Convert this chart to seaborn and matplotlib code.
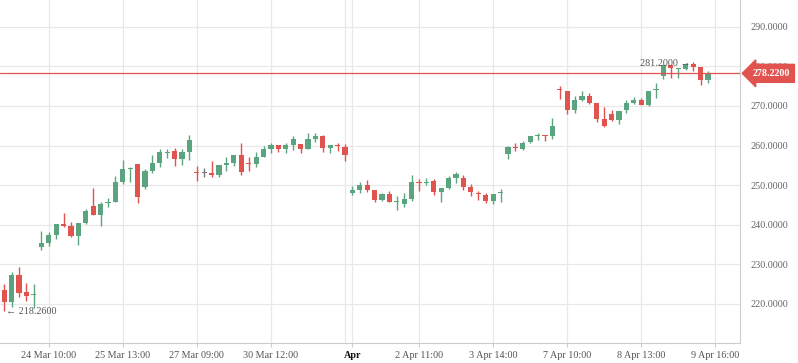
import numpy as np
import matplotlib
matplotlib.use("Agg")
import matplotlib.pyplot as plt
import seaborn as sns

opens = [223.5, 220.55, 227.3, 223.0, 222.45, 234.44, 235.45, 237.4, 240.3, 239.67,
         237.14, 240.5, 244.7, 242.44, 245.4, 245.72, 250.77, 254.2, 255.32, 249.43,
         253.64, 255.65, 258.2, 258.6, 256.58, 258.35, 253.3, 253.2, 253.05, 252.54,
         255.07, 255.57, 257.59, 255.5, 255.32, 257.09, 259.1, 260.12, 259.1, 260.12,
         260.37, 259.1, 261.72, 262.39, 259.44, 259.95, 259.6, 248.1, 248.8, 250.03,
         248.76, 246.24, 247.75, 245.85, 245.23, 246.49, 250.78, 250.6, 251.12, 248.34,
         249.35, 251.71, 251.71, 249.6, 248.0, 247.5, 246.07, 248.0, 257.9, 259.6,
         259.04, 260.89, 262.5, 262.57, 262.4, 274.1, 273.77, 268.97, 271.5, 272.5,
         270.73, 266.7, 267.96, 266.44, 268.97, 270.82, 271.49, 270.23, 274.0, 277.64,
         280.33, 279.3, 279.32, 280.58, 279.91, 276.54, 278.3]
highs = [225.0, 228.1, 229.4, 225.35, 225.0, 238.4, 238.07, 240.3, 242.86, 240.76,
         240.5, 243.95, 249.17, 245.8, 246.8, 252.3, 256.33, 254.65, 255.32, 253.97,
         257.6, 259.02, 259.0, 259.4, 259.2, 262.64, 254.8, 254.2, 256.16, 255.07,
         257.17, 257.59, 260.7, 257.0, 258.35, 259.86, 260.54, 260.12, 260.54, 262.39,
         260.37, 263.06, 263.23, 262.64, 260.12, 260.54, 260.38, 249.77, 250.7, 251.29,
         248.76, 248.09, 248.51, 247.25, 248.09, 252.64, 251.46, 251.79, 251.46, 249.18,
         252.3, 253.22, 252.55, 250.19, 248.51, 247.92, 247.75, 249.1, 259.8, 260.55,
         261.22, 262.4, 263.08, 262.57, 266.86, 275.03, 273.77, 272.5, 273.77, 273.35,
         270.73, 269.81, 268.97, 268.8, 271.49, 272.17, 271.91, 273.77, 275.87, 280.58,
         280.33, 279.49, 280.92, 281.2, 279.91, 278.9, 278.35]
lows = [218.26, 219.3, 221.65, 220.8, 219.0, 233.6, 234.6, 236.3, 239.33, 236.8,
        234.86, 240.17, 242.44, 239.66, 244.37, 245.72, 250.27, 250.86, 245.55, 248.9,
        252.96, 254.48, 256.75, 254.9, 255.2, 256.33, 251.1, 251.95, 252.12, 252.12,
        253.64, 254.9, 252.54, 253.64, 254.65, 257.0, 258.18, 258.43, 258.0, 258.86,
        258.18, 259.1, 260.96, 258.43, 258.0, 258.7, 256.16, 247.5, 248.1, 248.17,
        245.73, 245.98, 245.82, 243.71, 244.55, 246.07, 248.6, 250.03, 247.5, 245.82,
        248.93, 250.45, 248.76, 247.33, 246.24, 245.56, 245.23, 245.73, 256.68, 258.7,
        258.87, 260.72, 261.39, 261.22, 261.73, 271.83, 267.96, 268.3, 271.24, 270.48,
        266.02, 264.76, 266.19, 265.52, 268.3, 270.48, 270.23, 269.98, 271.91, 276.8,
        277.13, 277.13, 279.07, 278.9, 275.37, 275.87, 278.2]
closes = [220.55, 227.3, 222.8, 222.1, 222.5, 235.37, 237.4, 240.3, 239.67, 237.14,
          240.33, 243.45, 242.44, 245.22, 245.8, 250.77, 254.06, 254.3, 246.9, 253.6,
          255.65, 258.35, 258.35, 256.58, 258.35, 261.38, 253.2, 253.2, 252.54, 255.07,
          255.57, 257.59, 253.38, 255.4, 257.0, 259.1, 260.12, 259.19, 260.12, 261.63,
          259.1, 261.63, 262.39, 259.44, 260.12, 259.86, 257.6, 248.8, 250.1, 248.76,
          246.24, 247.75, 245.82, 245.9, 246.41, 250.78, 250.6, 250.78, 248.34, 249.18,
          251.71, 252.71, 249.6, 248.34, 247.92, 246.07, 247.75, 248.26, 259.6, 259.5,
          260.55, 262.4, 262.57, 262.5, 264.93, 274.0, 268.97, 271.5, 272.5, 270.82,
          266.78, 264.93, 266.44, 268.8, 270.65, 271.49, 270.23, 273.77, 274.1, 280.33,
          279.49, 279.4, 280.58, 279.91, 276.54, 278.23, 278.22]

tick_pos = [6, 16, 26, 36, 47, 56, 66, 76, 86, 96]
tick_labels = ["24 Mar 10:00", "25 Mar 13:00", "27 Mar 09:00", "30 Mar 12:00", "Apr",
               "2 Apr 11:00", "3 Apr 14:00", "7 Apr 10:00", "8 Apr 13:00", "9 Apr 16:00"]
extra_grid = [46]
y_ticks = [220, 230, 240, 250, 260, 270, 280, 290]

sns.set_theme(style="white")
plt.rcParams["font.family"] = ["Liberation Serif", "DejaVu Sans"]

GREEN = "#5aa47f"
RED = "#e0534f"
GRAY = "#7a7a7a"
FS = 7.3

fig = plt.figure(figsize=(7.98, 3.63), dpi=100)
ax = fig.add_axes([0, 20 / 363, 740 / 798, 343 / 363])

o = np.array(opens); h = np.array(highs); l = np.array(lows); c = np.array(closes)
x = np.arange(len(o))
cols = np.where(c > o, GREEN, np.where(c < o, RED, GRAY))

# grid
for v in y_ticks:
    ax.axhline(v, color="#e8e8e8", lw=0.9, zorder=0)
for p in tick_pos + extra_grid:
    ax.axvline(p, color="#e8e8e8", lw=0.9, zorder=0)

# candles
ax.vlines(x, l, h, colors=cols, lw=1.0, zorder=2)
bottom = np.minimum(o, c)
height = np.maximum(np.abs(c - o), 0.3)
bottom = np.where(np.abs(c - o) < 0.3, (o + c) / 2 - 0.15, bottom)
ax.bar(x, height, bottom=bottom, width=0.7, color=cols, linewidth=0, zorder=3)

# last price line
last = closes[-1]
ax.axhline(last, color=RED, lw=0.9, zorder=4)

# min / max annotations
imin = int(np.argmin(l)); imax = int(np.argmax(h))
ax.text(imin + 0.2, l[imin] - 0.2, "\u2190 %.4f" % l[imin], ha="left", va="center",
        fontsize=FS, color="#555555", zorder=5)
ax.text(imax - 0.3, h[imax] - 0.45, "%.4f \u2192" % h[imax], ha="right", va="center",
        fontsize=FS, color="#555555", zorder=5)

ax.set_xlim(-0.575, 99.33)
ax.set_ylim(210.13, 296.74)

ax.set_xticks(tick_pos)
ax.set_xticklabels(tick_labels)
for lab in ax.get_xticklabels():
    if lab.get_text() == "Apr":
        lab.set_fontweight("bold")
        lab.set_color("#111111")
    else:
        lab.set_color("#555555")
ax.tick_params(axis="x", length=3, width=0.8, color="#cccccc", labelsize=FS, pad=2.5,
               bottom=True)

ax.yaxis.tick_right()
ax.set_yticks(y_ticks)
ax.set_yticklabels(["%.4f" % v for v in y_ticks])
ax.tick_params(axis="y", length=3, width=0.8, color="#cccccc", labelsize=FS,
               labelcolor="#666666", pad=4.5, right=True, left=False)

sns.despine(ax=ax, left=True, top=True, right=False, bottom=False)
ax.spines["right"].set_color("#cccccc")
ax.spines["bottom"].set_color("#cccccc")
ax.spines["right"].set_linewidth(0.8)
ax.spines["bottom"].set_linewidth(0.8)

# current price tag on the axis
ax.annotate("%.4f" % last, xy=(1.0, last), xycoords=("axes fraction", "data"),
            xytext=(9, 0), textcoords="offset points", ha="left", va="center",
            fontsize=7.2, color="white", fontweight="bold", zorder=10,
            bbox=dict(boxstyle="larrow,pad=0.45", fc=RED, ec=RED),
            annotation_clip=False)

fig.savefig("out.png", dpi=100)
